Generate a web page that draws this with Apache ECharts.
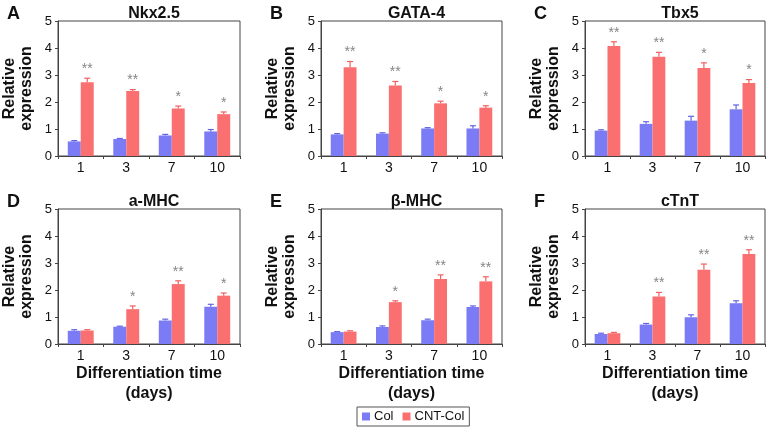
<!DOCTYPE html>
<html lang="en">
<head>
    <meta charset="UTF-8">
    <title>Relative expression</title>
    <script src="https://cdn.jsdelivr.net/npm/echarts@6/dist/echarts.min.js"></script>
    <style>
        html, body { margin: 0; padding: 0; background: #fff; }
        #main { width: 769px; height: 430px; }
    </style>
</head>
<body>
<div id="main"></div>
<script>
    // 数据
    var days = ['1', '3', '7', '10'];
    var panelNames = ['Nkx2.5', 'GATA-4', 'Tbx5', 'a-MHC', '\u03b2-MHC', 'cTnT'];
    var panelLetters = ['A', 'B', 'C', 'D', 'E', 'F'];

    var colValues = [
        [0.54, 0.63, 0.76, 0.91],
        [0.80, 0.83, 1.02, 1.02],
        [0.94, 1.19, 1.31, 1.73],
        [0.49, 0.64, 0.87, 1.38],
        [0.44, 0.63, 0.88, 1.37],
        [0.37, 0.72, 0.99, 1.51]
    ];
    var colErrors = [
        [0.03, 0.02, 0.04, 0.07],
        [0.03, 0.03, 0.03, 0.10],
        [0.03, 0.08, 0.16, 0.16],
        [0.04, 0.02, 0.05, 0.09],
        [0.02, 0.04, 0.04, 0.04],
        [0.03, 0.04, 0.09, 0.09]
    ];
    var cntValues = [
        [2.73, 2.41, 1.76, 1.55],
        [3.29, 2.61, 1.95, 1.79],
        [4.07, 3.68, 3.26, 2.70],
        [0.50, 1.29, 2.22, 1.79],
        [0.46, 1.55, 2.41, 2.32],
        [0.40, 1.76, 2.75, 3.33]
    ];
    var cntErrors = [
        [0.15, 0.05, 0.09, 0.08],
        [0.21, 0.15, 0.08, 0.07],
        [0.16, 0.16, 0.19, 0.13],
        [0.03, 0.12, 0.12, 0.10],
        [0.03, 0.05, 0.15, 0.17],
        [0.03, 0.15, 0.21, 0.16]
    ];
    var stars = [
        ['**', '**', '*', '*'],
        ['**', '**', '*', '*'],
        ['**', '**', '*', '*'],
        ['', '*', '**', '*'],
        ['', '*', '**', '**'],
        ['', '**', '**', '**']
    ];
    var yTicks = [0, 1, 2, 3, 4, 5];

    var BLUE = '#7b7bf6';
    var RED = '#fa7070';
    var BAR_FRAC = 0.285;
    var FONT = 'Liberation Sans, Arial, sans-serif';

    var gridPos = [
        {left: 58, top: 21, width: 182, height: 135},
        {left: 321, top: 21, width: 181, height: 135},
        {left: 585, top: 21, width: 180, height: 135},
        {left: 58, top: 209, width: 182, height: 135},
        {left: 321, top: 209, width: 181, height: 135},
        {left: 585, top: 209, width: 180, height: 135}
    ];

    var starLookup = {};

    // 误差线 + 星号
    function errRender(side) {
        return function (params, api) {
            var i = api.value(0);
            var v = api.value(1);
            var e = api.value(2);
            var band = api.size([1, 0])[0];
            var off = band * BAR_FRAC / 2 * side;
            var p0 = api.coord([i, v]);
            var p1 = api.coord([i, v + e]);
            var x = p0[0] + off;
            var color = side < 0 ? '#6464e0' : '#f06060';
            var children = [
                {type: 'line', shape: {x1: x, y1: p0[1], x2: x, y2: p1[1]}, style: {stroke: color, lineWidth: 1.2}},
                {type: 'line', shape: {x1: x - 3, y1: p1[1], x2: x + 3, y2: p1[1]}, style: {stroke: color, lineWidth: 1.2}}
            ];
            if (side > 0) {
                var txt = starLookup[params.seriesIndex][params.dataIndex];
                if (txt) {
                    children.push({
                        type: 'text',
                        style: {
                            text: txt, x: x, y: p1[1] - 2,
                            align: 'center', verticalAlign: 'bottom',
                            fill: '#858585', font: '14px ' + FONT
                        }
                    });
                }
            }
            return {type: 'group', children: children};
        };
    }

    var grids = [], xAxes = [], yAxes = [], titles = [], series = [];

    for (var p = 0; p < 6; p++) {
        var g = gridPos[p];
        grids.push({
            left: g.left, top: g.top, width: g.width, height: g.height,
            show: true, borderColor: '#444', borderWidth: 1, backgroundColor: '#fff'
        });
        var bottomRow = p >= 3;
        xAxes.push({
            type: 'category', gridIndex: p, data: days,
            axisLine: {lineStyle: {color: '#444', width: 1}},
            axisTick: {show: true, length: 3, lineStyle: {color: '#444'}},
            axisLabel: {color: '#111', fontSize: 14, fontFamily: FONT, margin: 5},
            name: bottomRow ? 'Differentiation time\n(days)' : '',
            nameLocation: 'middle', nameGap: 20,
            nameTextStyle: {fontSize: 16, fontWeight: 'bold', color: '#111', fontFamily: FONT, lineHeight: 20, verticalAlign: 'top'}
        });
        yAxes.push({
            type: 'value', gridIndex: p, min: yTicks[0], max: yTicks[yTicks.length - 1], interval: 1,
            axisLine: {show: true, lineStyle: {color: '#444', width: 1}},
            axisTick: {show: true, length: 3, lineStyle: {color: '#444'}},
            splitLine: {show: false},
            axisLabel: {color: '#111', fontSize: 13, fontFamily: FONT, margin: 6},
            name: 'Relative\nexpression', nameLocation: 'middle', nameRotate: 90, nameGap: 23,
            nameTextStyle: {fontSize: 16, fontWeight: 'bold', color: '#111', fontFamily: FONT, lineHeight: 17}
        });
        titles.push({
            text: panelNames[p],
            left: g.left + g.width / 2, top: g.top - 20, textAlign: 'center',
            textStyle: {fontSize: 16, fontWeight: 'bold', color: '#111', fontFamily: FONT}
        });
        titles.push({
            text: panelLetters[p],
            left: g.left - 56, top: g.top - 21,
            textStyle: {fontSize: 18, fontWeight: 'bold', color: '#111', fontFamily: FONT}
        });

        series.push({
            name: 'Col', type: 'bar', xAxisIndex: p, yAxisIndex: p,
            data: colValues[p], itemStyle: {color: BLUE},
            barWidth: (BAR_FRAC * 100) + '%', barGap: '0%'
        });
        series.push({
            name: 'CNT-Col', type: 'bar', xAxisIndex: p, yAxisIndex: p,
            data: cntValues[p], itemStyle: {color: RED},
            barWidth: (BAR_FRAC * 100) + '%', barGap: '0%'
        });
        series.push({
            type: 'custom', xAxisIndex: p, yAxisIndex: p, silent: true, z: 3,
            renderItem: errRender(-1),
            data: colValues[p].map(function (v, i) { return [i, v, colErrors[p][i]]; })
        });
        starLookup[series.length] = stars[p];
        series.push({
            type: 'custom', xAxisIndex: p, yAxisIndex: p, silent: true, z: 3,
            renderItem: errRender(1),
            data: cntValues[p].map(function (v, i) { return [i, v, cntErrors[p][i]]; })
        });
    }

    var chart = echarts.init(document.getElementById('main'), null, {renderer: 'canvas'});
    chart.setOption({
        animation: false,
        backgroundColor: '#fff',
        title: titles,
        legend: {
            data: ['Col', 'CNT-Col'],
            left: 357, top: 407,
            icon: 'rect', itemWidth: 8, itemHeight: 8, itemGap: 9,
            borderColor: '#555', borderWidth: 1, borderRadius: 0,
            padding: [3, 5, 3, 5],
            textStyle: {fontSize: 13, color: '#111', fontFamily: FONT, padding: [0, 0, 0, -1]}
        },
        grid: grids,
        xAxis: xAxes,
        yAxis: yAxes,
        series: series
    });
</script>
</body>
</html>
